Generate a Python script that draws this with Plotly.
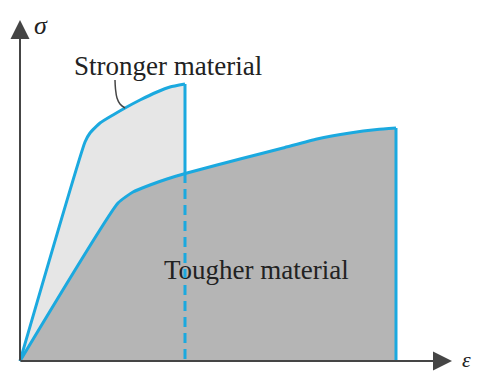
import plotly.graph_objects as go

# Schematic stress-strain curves (arbitrary units)
strong_strain = [0, 65, 70, 80, 93, 105, 120, 137, 150, 165]
strong_stress = [0, 219, 228, 238, 246, 253, 261, 269, 274, 277]
strong_fracture_stress = 188  # where the fracture line meets the tougher curve

tough_strain = [0, 98, 113, 130, 147, 167, 197, 220, 263, 297, 330, 357, 376]
tough_stress = [0, 158, 169, 176, 182, 188, 196, 202, 213, 222, 228, 231.5, 233]

leader_x = [95, 95.5, 97, 100, 105]
leader_y = [281, 272, 263, 257, 253]

labels = ["Stronger material", "Tougher material"]
axis_labels = ["σ", "ε"]

CYAN = "#1ba9df"
LIGHT = "#e6e6e6"
DARK = "#b5b5b5"
AXIS = "#454545"
TXT = "#222222"
FONT = "Liberation Serif, Times New Roman, DejaVu Serif, serif"
SMOOTH = 0.45

fig = go.Figure()

# stronger fill
fig.add_trace(go.Scatter(
    x=strong_strain, y=strong_stress,
    fill="tozeroy", fillcolor=LIGHT, mode="lines",
    line=dict(width=0, shape="spline", smoothing=SMOOTH),
    hoverinfo="skip", showlegend=False))
# tougher fill
fig.add_trace(go.Scatter(
    x=tough_strain, y=tough_stress,
    fill="tozeroy", fillcolor=DARK, mode="lines",
    line=dict(width=0, shape="spline", smoothing=SMOOTH),
    hoverinfo="skip", showlegend=False))

sx_end = strong_strain[-1]
tx_end = tough_strain[-1]

# stronger outline
fig.add_trace(go.Scatter(
    x=strong_strain, y=strong_stress,
    mode="lines", line=dict(color=CYAN, width=3, shape="spline", smoothing=SMOOTH),
    hoverinfo="skip", showlegend=False))
fig.add_trace(go.Scatter(
    x=[sx_end, sx_end], y=[strong_stress[-1], strong_fracture_stress],
    mode="lines", line=dict(color=CYAN, width=3),
    hoverinfo="skip", showlegend=False))
fig.add_trace(go.Scatter(
    x=[sx_end, sx_end], y=[strong_fracture_stress, 0],
    mode="lines", line=dict(color=CYAN, width=3, dash="10px,6px"),
    hoverinfo="skip", showlegend=False))
# tougher outline
fig.add_trace(go.Scatter(
    x=tough_strain, y=tough_stress,
    mode="lines", line=dict(color=CYAN, width=3, shape="spline", smoothing=SMOOTH),
    hoverinfo="skip", showlegend=False))
fig.add_trace(go.Scatter(
    x=[tx_end, tx_end], y=[tough_stress[-1], 0],
    mode="lines", line=dict(color=CYAN, width=3),
    hoverinfo="skip", showlegend=False))

# leader line
fig.add_trace(go.Scatter(
    x=leader_x, y=leader_y, mode="lines", line=dict(color=AXIS, width=1.5, shape="spline"),
    hoverinfo="skip", showlegend=False))

# axes with arrows
fig.add_annotation(x=0, y=341, ax=0, ay=-1, xref="x", yref="y", axref="x", ayref="y",
                   showarrow=True, arrowhead=2, arrowsize=1.9, arrowwidth=2, arrowcolor=AXIS, text="")
fig.add_annotation(x=432, y=0, ax=-1, ay=0, xref="x", yref="y", axref="x", ayref="y",
                   showarrow=True, arrowhead=2, arrowsize=1.9, arrowwidth=2, arrowcolor=AXIS, text="")

fig.add_annotation(x=148, y=295, text=labels[0], showarrow=False,
                   font=dict(family=FONT, size=27, color=TXT))
fig.add_annotation(x=236, y=91, text=labels[1], showarrow=False,
                   font=dict(family=FONT, size=27, color=TXT))
fig.add_annotation(x=21, y=336, text="<i>" + axis_labels[0] + "</i>", showarrow=False,
                   font=dict(family=FONT, size=26, color=TXT))
fig.add_annotation(x=446, y=1.5, text="<i>" + axis_labels[1] + "</i>", showarrow=False,
                   font=dict(family=FONT, size=22, color=TXT))

fig.update_layout(
    width=481, height=374, autosize=False,
    margin=dict(l=0, r=0, t=0, b=0),
    paper_bgcolor="white", plot_bgcolor="white",
    xaxis=dict(range=[-20, 461], visible=False, fixedrange=True),
    yaxis=dict(range=[-13, 361], visible=False, fixedrange=True),
)

fig.write_html("out.html")
